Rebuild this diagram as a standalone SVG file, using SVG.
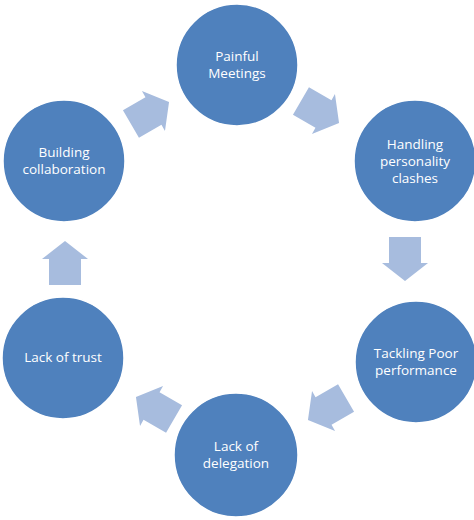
<svg xmlns="http://www.w3.org/2000/svg" width="474" height="520" viewBox="0 0 474 520">
<defs>
<style>
.node circle{fill:#4F81BD;stroke:#ffffff;stroke-width:1.5}
.node text{fill:#ffffff;font-family:"Open Sans","Liberation Sans",sans-serif;font-size:13.5px;text-anchor:middle}
.arr{fill:#A7BCDE}
</style>
<path id="arrow" d="M-22,-16 L4,-16 L4,-23 L22,0 L4,23 L4,16 L-22,16 Z"/>
</defs>
<rect width="474" height="520" fill="#ffffff"/>
<g id="connectors">
<use href="#arrow" class="arr" transform="translate(150,113) rotate(-30)"/>
<use href="#arrow" class="arr" transform="translate(320,112) rotate(30)"/>
<use href="#arrow" class="arr" transform="translate(405,259) rotate(90)"/>
<use href="#arrow" class="arr" transform="translate(327,409) rotate(150)"/>
<use href="#arrow" class="arr" transform="translate(155,408) rotate(210)"/>
<use href="#arrow" class="arr" transform="translate(65,263) rotate(270)"/>
</g>
<g id="painful-meetings" class="node">
<circle cx="237" cy="65" r="61"/>
<text x="237" y="61">Painful</text>
<text x="237" y="78">Meetings</text>
</g>
<g id="handling-personality-clashes" class="node">
<circle cx="415" cy="161" r="61"/>
<text x="415" y="149">Handling</text>
<text x="415" y="166">personality</text>
<text x="415" y="183">clashes</text>
</g>
<g id="tackling-poor-performance" class="node">
<circle cx="416" cy="362" r="61"/>
<text x="416" y="358">Tackling Poor</text>
<text x="416" y="375">performance</text>
</g>
<g id="lack-of-delegation" class="node">
<circle cx="236" cy="455" r="62"/>
<text x="236" y="451">Lack of</text>
<text x="236" y="468">delegation</text>
</g>
<g id="lack-of-trust" class="node">
<circle cx="63" cy="358" r="61"/>
<text x="63" y="362">Lack of trust</text>
</g>
<g id="building-collaboration" class="node">
<circle cx="64" cy="161" r="61"/>
<text x="64" y="157">Building</text>
<text x="64" y="174">collaboration</text>
</g>
</svg>
